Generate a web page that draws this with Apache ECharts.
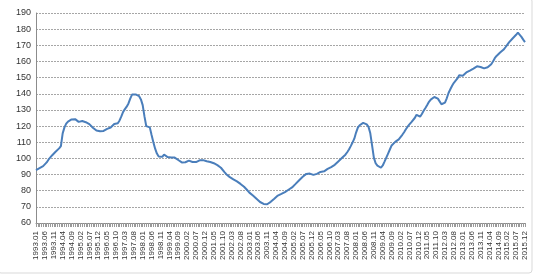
<!DOCTYPE html>
<html>
<head>
<meta charset="utf-8">
<script src="https://cdn.jsdelivr.net/npm/echarts@6/dist/echarts.min.js"></script>
<style>html,body{margin:0;padding:0;background:#fff;}#c{width:538px;height:277px;}</style>
</head>
<body>
<div id="c"></div>
<script>
// Monthly values 1993.01 - 2015.12
const values1993 = [92.8, 93.5, 94.0, 94.3, 95.2, 96.0, 97.5, 99.2, 100.4, 101.8, 102.9, 104.1];
const values1994 = [105.0, 106.2, 107.6, 115.5, 119.2, 121.5, 122.8, 123.6, 124.1, 123.8, 124.3, 123.9];
const values1995 = [122.6, 122.2, 123.1, 122.7, 122.4, 121.8, 121.2, 120.3, 119.0, 117.8, 117.2, 116.4];
const values1996 = [116.8, 117.3, 117.0, 117.6, 118.3, 118.0, 119.1, 120.2, 121.3, 121.0, 121.8, 123.5];
const values1997 = [126.0, 128.8, 130.5, 132.0, 134.0, 137.0, 139.5, 140.2, 139.6, 139.8, 138.5, 136.5];
const values1998 = [133.0, 126.0, 120.0, 119.5, 119.2, 114.5, 110.0, 106.0, 103.0, 101.2, 100.5, 101.0];
const values1999 = [102.4, 101.6, 100.8, 100.9, 100.6, 100.2, 100.5, 99.6, 99.0, 98.2, 97.5, 97.0];
const values2000 = [97.6, 98.3, 98.6, 98.0, 97.8, 98.1, 97.7, 98.3, 98.8, 98.6, 98.9, 98.4];
const values2001 = [98.2, 98.0, 97.8, 97.5, 97.0, 96.4, 95.8, 95.3, 94.2, 93.0, 91.5, 90.2];
const values2002 = [89.2, 88.4, 87.8, 87.0, 86.5, 85.8, 85.0, 84.2, 83.4, 82.4, 81.3, 80.1];
const values2003 = [78.8, 77.9, 77.0, 76.0, 75.0, 74.0, 73.0, 72.2, 71.8, 71.4, 71.6, 72.3];
const values2004 = [73.1, 73.9, 75.0, 76.2, 77.0, 77.6, 78.0, 78.6, 79.1, 79.9, 80.6, 81.2];
const values2005 = [82.0, 83.1, 84.2, 85.3, 86.5, 87.6, 88.6, 89.5, 90.4, 90.9, 90.6, 90.0];
const values2006 = [89.8, 90.1, 90.4, 90.9, 91.6, 91.3, 92.0, 92.8, 93.5, 94.0, 94.6, 95.2];
const values2007 = [96.0, 97.0, 98.1, 99.0, 100.2, 101.1, 102.3, 103.8, 105.5, 107.6, 109.8, 112.2];
const values2008 = [116.0, 119.0, 120.5, 121.3, 122.0, 122.3, 121.0, 119.5, 115.5, 108.0, 100.5, 97.0];
const values2009 = [95.5, 94.6, 94.2, 95.6, 98.0, 100.5, 103.0, 105.5, 108.0, 109.2, 110.2, 111.0];
const values2010 = [111.8, 112.9, 114.6, 116.2, 118.0, 119.6, 121.0, 122.3, 123.5, 125.0, 127.0, 126.5];
const values2011 = [125.8, 127.5, 129.5, 131.2, 133.0, 135.0, 136.4, 137.4, 138.0, 137.6, 137.0, 136.2];
const values2012 = [133.5, 133.2, 134.5, 137.2, 140.5, 142.8, 145.0, 146.8, 148.0, 149.5, 151.5, 151.8];
const values2013 = [151.2, 152.0, 153.2, 154.0, 154.3, 155.2, 155.6, 156.4, 157.0, 157.3, 156.6, 156.0];
const values2014 = [155.7, 155.9, 156.4, 157.2, 158.3, 160.0, 162.0, 163.4, 164.5, 165.5, 166.6, 167.4];
const values2015 = [168.8, 170.3, 171.8, 173.0, 174.2, 175.4, 176.5, 177.8, 177.2, 175.2, 173.5, 172.0];

const years = [1993,1994,1995,1996,1997,1998,1999,2000,2001,2002,2003,2004,2005,2006,2007,2008,2009,2010,2011,2012,2013,2014,2015];
const yearly = [values1993,values1994,values1995,values1996,values1997,values1998,values1999,values2000,values2001,values2002,values2003,values2004,values2005,values2006,values2007,values2008,values2009,values2010,values2011,values2012,values2013,values2014,values2015];

const yTicks = {min: 60, max: 190, interval: 10};

const categories = [];
const seriesValues = [];
years.forEach((y, k) => {
  yearly[k].forEach((v, m) => {
    categories.push(y + '.' + String(m + 1).padStart(2, '0'));
    seriesValues.push(v);
  });
});

const chart = echarts.init(document.getElementById('c'), null, {renderer: 'canvas'});
chart.setOption({
  animation: false,
  backgroundColor: '#fff',
  graphic: [{
    type: 'rect',
    shape: {x: -2, y: -2, width: 534, height: 275, r: 3},
    style: {fill: 'none', stroke: '#d9d9d9', lineWidth: 1},
    silent: true
  }],
  grid: {left: 36, right: 13, top: 13, bottom: 54, containLabel: false},
  xAxis: {
    type: 'category',
    data: categories,
    boundaryGap: false,
    axisLine: {show: true, lineStyle: {color: '#8c8c8c', width: 1}},
    axisTick: {show: true, interval: 0, length: 4, lineStyle: {color: '#9a9a9a'}},
    axisLabel: {
      interval: 4,
      rotate: 90,
      fontSize: 8,
      fontFamily: 'Liberation Sans',
      color: '#333',
      margin: 8
    },
    splitLine: {show: false}
  },
  yAxis: {
    type: 'value',
    min: yTicks.min,
    max: yTicks.max,
    interval: yTicks.interval,
    axisLine: {show: true, lineStyle: {color: '#8c8c8c', width: 1}},
    axisTick: {show: false},
    axisLabel: {fontSize: 9, fontFamily: 'Liberation Sans', color: '#333', margin: 5},
    splitLine: {show: true, lineStyle: {color: '#a6a6a6', type: [2, 1], width: 1}}
  },
  series: [{
    type: 'line',
    data: seriesValues,
    showSymbol: false,
    symbol: 'none',
    lineStyle: {color: '#4a7ebb', width: 2},
    itemStyle: {color: '#4a7ebb'}
  }]
});
</script>
</body>
</html>
